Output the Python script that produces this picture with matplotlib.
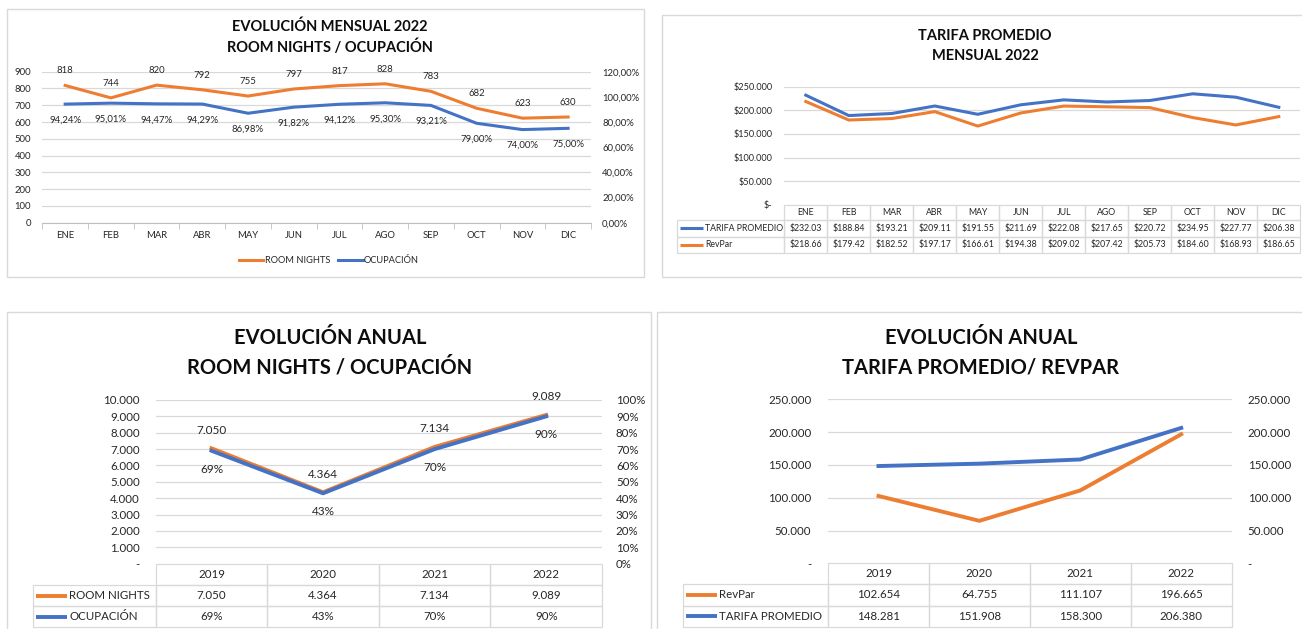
import matplotlib
matplotlib.use("Agg")
import matplotlib.pyplot as plt
import numpy as np
from matplotlib.patches import Rectangle
from matplotlib.lines import Line2D
from matplotlib.ticker import FuncFormatter, MultipleLocator

# ---------------- data ----------------
months = ['ENE', 'FEB', 'MAR', 'ABR', 'MAY', 'JUN', 'JUL', 'AGO', 'SEP', 'OCT', 'NOV', 'DIC']
room_nights_m = [818, 744, 820, 792, 755, 797, 817, 828, 783, 682, 623, 630]
occupancy_m = [94.24, 95.01, 94.47, 94.29, 86.98, 91.82, 94.12, 95.30, 93.21, 79.00, 74.00, 75.00]
tarifa_m = [232.03, 188.84, 193.21, 209.11, 191.55, 211.69, 222.08, 217.65, 220.72, 234.95, 227.77, 206.38]
revpar_m = [218.66, 179.42, 182.52, 197.17, 166.61, 194.38, 209.02, 207.42, 205.73, 184.60, 168.93, 186.65]

years = ['2019', '2020', '2021', '2022']
room_nights_y = [7050, 4364, 7134, 9089]
occupancy_y = [69, 43, 70, 90]
revpar_y = [102654, 64755, 111107, 196665]
tarifa_y = [148281, 151908, 158300, 206380]

# ---------------- style ----------------
W, H, DPI = 1302, 629, 100
plt.rcParams['font.family'] = ['Lato', 'DejaVu Sans']
ORANGE = '#ED7D31'
BLUE = '#4472C4'
GRID = '#d9d9d9'
TXT = '#262626'
TITLE = '#0d0d0d'


def thousands(v):
    return f"{int(round(v)):,}".replace(',', '.')


def pct2(v):
    return f"{v:.2f}".replace('.', ',') + '%'


fig = plt.figure(figsize=(W / DPI, H / DPI), dpi=DPI)
ov = fig.add_axes([0, 0, 1, 1])
ov.set_xlim(0, W)
ov.set_ylim(H, 0)
ov.axis('off')


def add_ax(x0, y0, x1, y1):
    return fig.add_axes([x0 / W, 1 - y1 / H, (x1 - x0) / W, (y1 - y0) / H])


def clean(ax):
    for s in ax.spines.values():
        s.set_visible(False)


def panel(x0, y0, x1, y1):
    ov.add_patch(Rectangle((x0, y0), x1 - x0, y1 - y0, fill=False, ec=GRID, lw=1.0))


def title(cx, y1, y2, l1, l2, size):
    ov.text(cx, y1, l1, ha='center', va='center', fontsize=size, fontweight='bold', color=TITLE)
    ov.text(cx, y2, l2, ha='center', va='center', fontsize=size, fontweight='bold', color=TITLE)


def table(ax_x0, ax_x1, n, header, hdr_top, hdr_bot, row_edges, leg_left, rows,
          fs, mk_len, lw):
    cw = (ax_x1 - ax_x0) / n
    edges = [ax_x0 + i * cw for i in range(n + 1)]
    for i, lab in enumerate(header):
        ov.add_patch(Rectangle((edges[i], hdr_top), cw, hdr_bot - hdr_top, fill=False, ec=GRID, lw=0.9))
        ov.text(edges[i] + cw / 2, (hdr_top + hdr_bot) / 2, lab, ha='center', va='center', fontsize=fs, color=TXT)
    for r, (lab, col, vals) in enumerate(rows):
        top, bot = row_edges[r], row_edges[r + 1]
        yc = (top + bot) / 2
        ov.add_patch(Rectangle((leg_left, top), ax_x0 - leg_left, bot - top, fill=False, ec=GRID, lw=0.9))
        ov.plot([leg_left + 3, leg_left + 3 + mk_len], [yc, yc], color=col, lw=lw, solid_capstyle='butt')
        ov.text(leg_left + 5 + mk_len, yc, lab, ha='left', va='center', fontsize=fs, color=TXT)
        for i, v in enumerate(vals):
            ov.add_patch(Rectangle((edges[i], top), cw, bot - top, fill=False, ec=GRID, lw=0.9))
            ov.text(edges[i] + cw / 2, yc, v, ha='center', va='center', fontsize=fs, color=TXT)


# ---------------- panel borders ----------------
panel(7, 9, 644, 277)
panel(662, 15, 1320, 277)
panel(7, 312, 651, 650)
panel(657, 312, 1320, 650)

# ---------------- top-left: monthly room nights / occupancy ----------------
title(330, 27, 47.5, 'EVOLUCIÓN MENSUAL 2022', 'ROOM NIGHTS / OCUPACIÓN', 10.5)
ax1 = add_ax(42.3, 71.7, 591, 222.7)
xm = np.arange(len(months))
ax1.plot(xm, room_nights_m, color=ORANGE, lw=2.2, solid_joinstyle='round')
ax1.set_xlim(-0.5, 11.5)
ax1.set_ylim(0, 900)
ax1.yaxis.set_major_locator(MultipleLocator(100))
ax1.grid(axis='y', color=GRID, lw=0.9)
ax1.set_axisbelow(True)
clean(ax1)
ax1.spines['bottom'].set_visible(True)
ax1.spines['bottom'].set_color('#bfbfbf')
ax1.set_xticks(xm)
ax1.set_xticklabels(months)
ax1.set_xticks(np.arange(-0.5, 12, 1), minor=True)
ax1.tick_params(axis='x', which='major', length=0, pad=6, labelsize=6.8, labelcolor=TXT)
ax1.tick_params(axis='x', which='minor', length=4, color='#bfbfbf')
ax1.tick_params(axis='y', length=0, pad=8, labelsize=6.8, labelcolor=TXT)
ax1b = ax1.twinx()
ax1b.plot(xm, occupancy_m, color=BLUE, lw=2.2, solid_joinstyle='round')
ax1b.set_ylim(0, 120)
ax1b.yaxis.set_major_locator(MultipleLocator(20))
ax1b.yaxis.set_major_formatter(FuncFormatter(lambda v, p: pct2(v)))
ax1b.tick_params(axis='y', length=0, pad=8, labelsize=6.8, labelcolor=TXT)
clean(ax1b)
for i, v in enumerate(room_nights_m):
    ax1.annotate(str(v), (i, v), xytext=(0, 14.5), textcoords='offset pixels',
                 ha='center', va='center', fontsize=6.9, color=TXT)
for i, v in enumerate(occupancy_m):
    ax1b.annotate(pct2(v), (i, v), xytext=(0, -16), textcoords='offset pixels',
                  ha='center', va='center', fontsize=6.9, color=TXT)
fig.legend(handles=[Line2D([], [], color=ORANGE, lw=2.2), Line2D([], [], color=BLUE, lw=2.2)],
           labels=['ROOM NIGHTS', 'OCUPACIÓN'], loc='center',
           bbox_to_anchor=(329 / W, 1 - 260.5 / H), ncol=2, frameon=False, fontsize=6.7,
           handlelength=2.6, handletextpad=0.15, columnspacing=0.9, labelcolor=TXT)

# ---------------- top-right: monthly rate ----------------
title(985, 35.5, 56.5, 'TARIFA PROMEDIO', 'MENSUAL 2022', 10.5)
ax2 = add_ax(784.3, 86.7, 1300.3, 204.7)
ax2.plot(xm, tarifa_m, color=BLUE, lw=2.2, solid_joinstyle='round', zorder=3)
ax2.plot(xm, revpar_m, color=ORANGE, lw=2.2, solid_joinstyle='round', zorder=2)
ax2.set_xlim(-0.5, 11.5)
ax2.set_ylim(0, 250)
ax2.yaxis.set_major_locator(MultipleLocator(50))
ax2.yaxis.set_major_formatter(FuncFormatter(lambda v, p: '$-' if v == 0 else '$' + thousands(v * 1000)))
ax2.grid(axis='y', color=GRID, lw=0.9)
ax2.set_axisbelow(True)
ax2.set_xticks([])
ax2.tick_params(axis='y', length=0, pad=8.5, labelsize=6.6, labelcolor=TXT)
clean(ax2)
table(784.3, 1300.3, 12, months, 204.7, 220, [220, 236.7, 252.7], 677.3,
      [('TARIFA PROMEDIO', BLUE, [f"${v:.2f}" for v in tarifa_m]),
       ('RevPar', ORANGE, [f"${v:.2f}" for v in revpar_m])],
      6.3, 23, 2.2)

# ---------------- bottom-left: annual room nights / occupancy ----------------
title(330, 337.5, 367, 'EVOLUCIÓN ANUAL', 'ROOM NIGHTS / OCUPACIÓN', 14.5)
ax3 = add_ax(155.7, 400, 602, 563.7)
xy = np.arange(len(years))
ax3.plot(xy, room_nights_y, color=ORANGE, lw=2.8, solid_joinstyle='round')
ax3.set_xlim(-0.5, 3.5)
ax3.set_ylim(0, 10000)
ax3.yaxis.set_major_locator(MultipleLocator(1000))
ax3.yaxis.set_major_formatter(FuncFormatter(lambda v, p: '-' if v == 0 else thousands(v)))
ax3.grid(axis='y', color=GRID, lw=0.9)
ax3.set_axisbelow(True)
ax3.set_xticks([])
ax3.tick_params(axis='y', length=0, pad=11.5, labelsize=8.3, labelcolor=TXT)
clean(ax3)
ax3b = ax3.twinx()
ax3b.plot(xy, occupancy_y, color=BLUE, lw=2.8, solid_joinstyle='round')
ax3b.set_ylim(0, 100)
ax3b.yaxis.set_major_locator(MultipleLocator(10))
ax3b.yaxis.set_major_formatter(FuncFormatter(lambda v, p: f"{v:.0f}%"))
ax3b.tick_params(axis='y', length=0, pad=10, labelsize=8.3, labelcolor=TXT)
clean(ax3b)
for i, v in enumerate(room_nights_y):
    ax3.annotate(thousands(v), (i, v), xytext=(0, 18), textcoords='offset pixels',
                 ha='center', va='center', fontsize=8.5, color=TXT)
for i, v in enumerate(occupancy_y):
    ax3b.annotate(f"{v}%", (i, v), xytext=(0, -18.5), textcoords='offset pixels',
                  ha='center', va='center', fontsize=8.5, color=TXT)
table(155.7, 602, 4, years, 563.7, 585, [585, 606, 627], 33.3,
      [('ROOM NIGHTS', ORANGE, [thousands(v) for v in room_nights_y]),
       ('OCUPACIÓN', BLUE, [f"{v}%" for v in occupancy_y])],
      8.3, 31, 2.8)

# ---------------- bottom-right: annual rate / revpar ----------------
title(981, 337.5, 367.5, 'EVOLUCIÓN ANUAL', 'TARIFA PROMEDIO/ REVPAR', 14.5)
ax4 = add_ax(828, 399.3, 1231.7, 563.3)
ax4.plot(xy, revpar_y, color=ORANGE, lw=2.8, solid_joinstyle='round', zorder=2)
ax4.plot(xy, tarifa_y, color=BLUE, lw=2.8, solid_joinstyle='round', zorder=3)
ax4.set_xlim(-0.5, 3.5)
ax4.set_ylim(0, 250000)
fmt4 = FuncFormatter(lambda v, p: '-' if v == 0 else thousands(v))
ax4.yaxis.set_major_locator(MultipleLocator(50000))
ax4.yaxis.set_major_formatter(fmt4)
ax4.grid(axis='y', color=GRID, lw=0.9)
ax4.set_axisbelow(True)
ax4.set_xticks([])
ax4.tick_params(axis='y', length=0, pad=12, labelsize=8.3, labelcolor=TXT)
clean(ax4)
ax4b = ax4.twinx()
ax4b.set_ylim(0, 250000)
ax4b.yaxis.set_major_locator(MultipleLocator(50000))
ax4b.yaxis.set_major_formatter(fmt4)
ax4b.tick_params(axis='y', length=0, pad=11.5, labelsize=8.3, labelcolor=TXT)
clean(ax4b)
table(828, 1231.7, 4, years, 563.3, 584.3, [584.3, 605.7, 626.7], 682.7,
      [('RevPar', ORANGE, [thousands(v) for v in revpar_y]),
       ('TARIFA PROMEDIO', BLUE, [thousands(v) for v in tarifa_y])],
      8.3, 31, 2.8)

fig.savefig('out.png', dpi=DPI)
